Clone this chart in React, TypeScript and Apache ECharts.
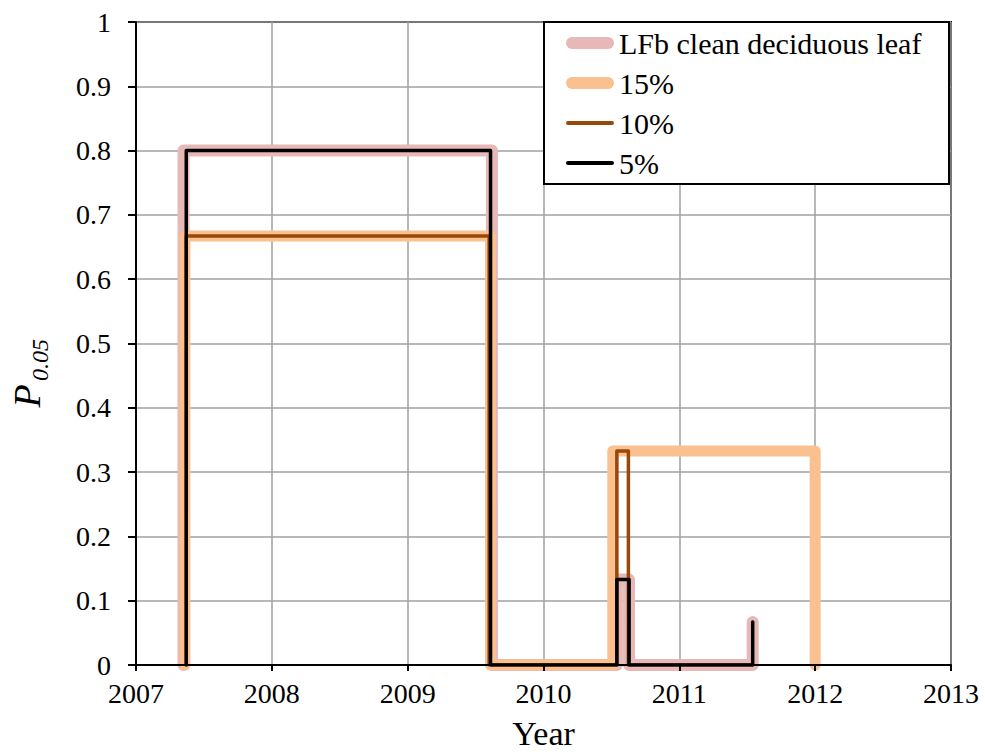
import React, { useEffect, useRef } from 'react';
import * as echarts from 'echarts';

// ---- data (years, P0.05 values) ----
const seriesNames = ['LFb clean deciduous leaf', '15%', '10%', '5%'];

const lfbYears = [2007.35, 2007.35, 2009.62, 2009.62, 2010.54, 2010.54, 2010.63, 2010.63, 2011.54, 2011.54, 2011.54];
const lfbValues = [0, 0.8, 0.8, 0, 0, 0.133, 0.133, 0, 0, 0.067, 0];

const p15Years = [2007.36, 2007.36, 2009.61, 2009.61, 2010.51, 2010.51, 2012.0, 2012.0];
const p15Values = [0, 0.667, 0.667, 0, 0, 0.333, 0.333, 0];

const p10Years = [2007.37, 2007.37, 2009.6, 2009.6, 2010.54, 2010.54, 2010.625, 2010.625, 2011.54];
const p10Values = [0, 0.667, 0.667, 0, 0, 0.333, 0.333, 0, 0];

const p5Years = [2007.37, 2007.37, 2009.61, 2009.61, 2010.54, 2010.54, 2010.63, 2010.63, 2011.54, 2011.54, 2011.54];
const p5Values = [0, 0.8, 0.8, 0, 0, 0.133, 0.133, 0, 0, 0.067, 0];

const xMin = 2007;
const xMax = 2013;
const xStep = 1;
const yMin = 0;
const yMax = 1;
const yStep = 0.1;

const colors = ['#e6b8b7', '#fac090', '#984807', '#000000'];
const widths = [12, 11, 3.5, 3.5];

const FONT = "'Liberation Serif', 'DejaVu Serif', serif";

function zip(xs: number[], ys: number[]) {
  return xs.map((x, i) => [x, ys[i]]);
}

export default function App() {
  const ref = useRef<HTMLDivElement>(null);
  useEffect(() => {
    document.body.style.margin = '0';
    const chart = echarts.init(ref.current!, null, { renderer: 'svg' });
    const datasets = [
      zip(lfbYears, lfbValues),
      zip(p15Years, p15Values),
      zip(p10Years, p10Values),
      zip(p5Years, p5Values),
    ];
    const thickIcon = 'path://M6,0H42A6,6,0,0,1,42,12H6A6,6,0,0,1,6,0Z';
    const thinIcon = 'path://M2,0H44A2,2,0,0,1,44,4H2A2,2,0,0,1,2,0Z';
    const option: any = {
      animation: false,
      textStyle: { fontFamily: FONT, color: '#000' },
      grid: {
        left: 136,
        right: 34,
        top: 22,
        bottom: 85,
        show: true,
        borderColor: '#000',
        borderWidth: 2,
        backgroundColor: 'transparent',
      },
      xAxis: [
        {
          type: 'value',
          position: 'bottom',
          min: xMin,
          max: xMax,
          interval: xStep,
          z: 10,
          axisLine: { show: true, lineStyle: { color: '#000', width: 2 } },
          axisTick: { show: true, inside: false, length: 6, lineStyle: { color: '#000', width: 2 } },
          axisLabel: {
            margin: 14,
            fontFamily: FONT,
            fontSize: 28,
            color: '#000',
            formatter: (v: number) => String(v),
          },
          splitLine: { show: false },
          name: 'Year',
          nameLocation: 'middle',
          nameGap: 51,
          nameTextStyle: { fontFamily: FONT, fontSize: 34, color: '#000' },
        },
        {
          type: 'value',
          position: 'top',
          min: xMin,
          max: xMax,
          interval: xStep,
          z: 0,
          axisLine: { show: false },
          axisTick: { show: false },
          axisLabel: { show: false },
          splitLine: { show: true, lineStyle: { color: '#a0a0a0', width: 1.5 } },
        },
      ],
      yAxis: {
        type: 'value',
        min: yMin,
        max: yMax,
        interval: yStep,
        axisLine: { show: true, lineStyle: { color: '#000', width: 2 } },
        axisTick: { show: true, inside: false, length: 8, lineStyle: { color: '#000', width: 2 } },
        axisLabel: {
          margin: 25,
          fontFamily: FONT,
          fontSize: 28,
          color: '#000',
        },
        splitLine: { show: true, lineStyle: { color: '#a0a0a0', width: 1.5 } },
      },
      legend: {
        show: true,
        orient: 'vertical',
        left: 566,
        top: 28,
        padding: 0,
        itemWidth: 48,
        itemHeight: 14,
        itemGap: 10,
        z: 6,
        selectedMode: false,
        itemStyle: { borderWidth: 0 },
        textStyle: { fontFamily: FONT, fontSize: 30, color: '#000', lineHeight: 30 },
        data: seriesNames.map((n, i) => ({ name: n, icon: i < 2 ? thickIcon : thinIcon })),
      },
      graphic: [
        {
          type: 'rect',
          z: 3,
          shape: { x: 544, y: 22, width: 405, height: 162 },
          style: { fill: '#fff', stroke: '#000', lineWidth: 2 },
        },
        {
          type: 'rect',
          z: 5,
          shape: { x: 140, y: 671.2, width: 740, height: 13 },
          style: { fill: '#fff' },
        },
        {
          type: 'text',
          z: 6,
          x: 27,
          y: 396,
          rotation: Math.PI / 2,
          style: {
            text: 'P',
            fontFamily: FONT,
            fontStyle: 'italic',
            fontSize: 38,
            fill: '#000',
            textAlign: 'center',
            textVerticalAlign: 'middle',
          },
        },
        {
          type: 'text',
          z: 6,
          x: 40,
          y: 360,
          rotation: Math.PI / 2,
          style: {
            text: '0.05',
            fontFamily: FONT,
            fontStyle: 'italic',
            fontSize: 24,
            fill: '#000',
            textAlign: 'center',
            textVerticalAlign: 'middle',
          },
        },
      ],
      series: seriesNames.map((n, i) => ({
        type: 'line',
        name: n,
        xAxisIndex: 0,
        data: datasets[i],
        symbol: 'none',
        z: 2 + i,
        clip: true,
        itemStyle: { color: colors[i] },
        lineStyle: { color: colors[i], width: widths[i], cap: 'round', join: 'round' },
      })),
    };
    chart.setOption(option);
    return () => chart.dispose();
  }, []);
  return <div ref={ref} style={{ width: 985, height: 755 }} />;
}
